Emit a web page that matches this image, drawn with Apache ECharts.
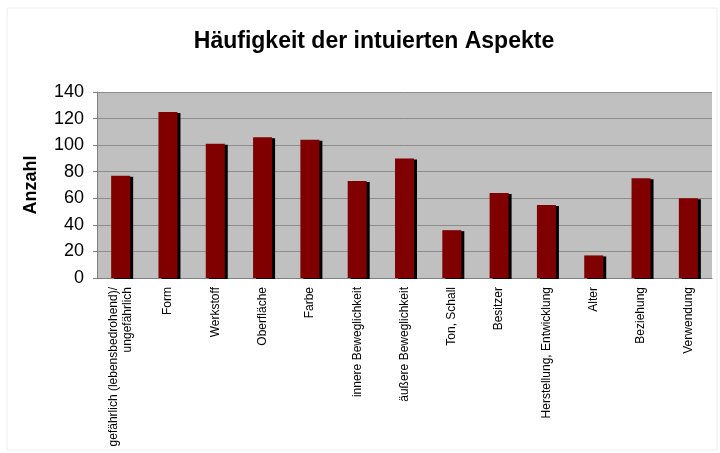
<!DOCTYPE html>
<html>
<head>
<meta charset="utf-8">
<script src="https://cdn.jsdelivr.net/npm/echarts@6/dist/echarts.min.js"></script>
<style>html,body{margin:0;padding:0;background:#fff;}#c{width:720px;height:453px;}</style>
</head>
<body>
<div id="c"></div>
<script>
const categories = [
  "gefährlich (lebensbedrohend)/\nungefährlich",
  "Form",
  "Werkstoff",
  "Oberfläche",
  "Farbe",
  "innere Beweglichkeit",
  "äußere Beweglichkeit",
  "Ton, Schall",
  "Besitzer",
  "Herstellung, Entwicklung",
  "Alter",
  "Beziehung",
  "Verwendung"
];
const values = [77, 125, 101, 106, 104, 73, 90, 36, 64, 55, 17, 75, 60];
const titleText = "Häufigkeit der intuierten Aspekte";
const yAxisName = "Anzahl";

const chart = echarts.init(document.getElementById('c'), null, {renderer: 'canvas'});
chart.setOption({
  animation: false,
  backgroundColor: '#ffffff',
  title: {
    text: titleText,
    left: 369,
    top: 25,
    textAlign: 'center',
    textStyle: {fontFamily: 'Liberation Sans, Arial, sans-serif', fontSize: 23, fontWeight: 'bold', color: '#000'}
  },
  grid: {left: 97, right: 8, top: 92, bottom: 175, containLabel: false,
         show: true, backgroundColor: '#c0c0c0', borderWidth: 0},
  xAxis: {
    type: 'category',
    data: categories,
    axisLine: {show: true, lineStyle: {color: '#808080', width: 1}},
    axisTick: {show: false},
    axisLabel: {
      rotate: 90, interval: 0, margin: 9,
      fontFamily: 'Liberation Sans, Arial, sans-serif', fontSize: 12, color: '#000', lineHeight: 14
    }
  },
  yAxis: {
    type: 'value',
    min: 0, max: 140, interval: 20,
    name: yAxisName,
    nameLocation: 'middle',
    nameGap: 57,
    nameRotate: 90,
    nameTextStyle: {fontFamily: 'Liberation Sans, Arial, sans-serif', fontSize: 18, fontWeight: 'bold', color: '#000'},
    axisLine: {show: true, lineStyle: {color: '#808080', width: 1}},
    axisTick: {show: true, length: 4, lineStyle: {color: '#808080'}},
    axisLabel: {fontFamily: 'Liberation Sans, Arial, sans-serif', fontSize: 18, color: '#000', margin: 13},
    splitLine: {show: true, lineStyle: {color: '#8c8c8c', width: 1}}
  },
  series: [{
    type: 'bar',
    data: values,
    barWidth: 19,
    itemStyle: {
      color: '#800000',
      shadowColor: '#000000',
      shadowBlur: 0,
      shadowOffsetX: 3,
      shadowOffsetY: 1
    }
  }],
  graphic: [{
    type: 'rect',
    shape: {x: 7, y: 8, width: 710, height: 442},
    style: {fill: 'none', stroke: '#eeeeee', lineWidth: 1},
    silent: true, z: -1
  }]
});
</script>
</body>
</html>
